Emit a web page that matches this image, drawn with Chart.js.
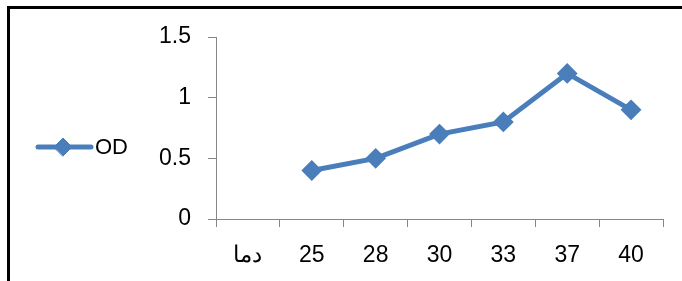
<!DOCTYPE html>
<html>
<head>
<meta charset="utf-8">
<script src="https://cdn.jsdelivr.net/npm/chart.js@4/dist/chart.umd.min.js"></script>
<style>
  html, body { margin: 0; padding: 0; width: 682px; height: 281px; overflow: hidden; background: #fff; }
  #frame { position: absolute; left: 7px; top: 6px; width: 800px; height: 400px; border: 3px solid #000; box-sizing: border-box; }
  canvas { position: absolute; left: 0; top: 0; }
</style>
</head>
<body>
<div id="frame"></div>
<canvas id="c" width="682" height="281"></canvas>
<script>
// Data
const categories = ['دما', '25', '28', '30', '33', '37', '40'];
const odValues = [null, 0.4, 0.5, 0.7, 0.8, 1.2, 0.9];
const seriesName = 'OD';
const yTicks = [0, 0.5, 1, 1.5];

const BLUE = '#4A7EBB';
const AXIS = '#868686';
const FONT = "'Liberation Sans', Arial, sans-serif";

const sideLegend = {
  id: 'sideLegend',
  afterDraw(chart) {
    const ctx = chart.ctx;
    const ds = chart.data.datasets[0];
    const y = 147;
    ctx.save();
    ctx.strokeStyle = ds.borderColor;
    ctx.lineWidth = 5;
    ctx.lineCap = 'round';
    ctx.beginPath();
    ctx.moveTo(38, y);
    ctx.lineTo(91, y);
    ctx.stroke();
    ctx.fillStyle = ds.backgroundColor;
    ctx.strokeStyle = ds.borderColor;
    ctx.lineWidth = 1;
    Chart.helpers.drawPoint(ctx, { pointStyle: 'rectRot', radius: 9, borderWidth: 1 }, 63, y);
    ctx.fillStyle = '#000';
    ctx.font = '22px ' + FONT;
    ctx.textBaseline = 'middle';
    ctx.textAlign = 'left';
    ctx.fillText(ds.label, 95, y + 1);
    ctx.restore();
  }
};

new Chart(document.getElementById('c'), {
  type: 'line',
  data: {
    labels: categories,
    datasets: [{
      label: seriesName,
      data: odValues,
      borderColor: BLUE,
      backgroundColor: BLUE,
      borderWidth: 5,
      tension: 0,
      pointStyle: 'rectRot',
      pointRadius: 9,
      pointBorderWidth: 2,
      pointBackgroundColor: BLUE,
      pointBorderColor: BLUE,
      spanGaps: false
    }]
  },
  options: {
    responsive: false,
    devicePixelRatio: 1,
    animation: false,
    layout: { padding: { left: 0, right: 19, top: 37, bottom: 0 } },
    plugins: { legend: { display: false }, tooltip: { enabled: false } },
    scales: {
      x: {
        type: 'category',
        offset: true,
        grid: { display: true, drawOnChartArea: false, drawTicks: true, tickLength: 8, color: AXIS, offset: true },
        border: { display: true, color: AXIS, width: 1 },
        ticks: { color: '#000', font: { family: FONT, size: 23 }, padding: 15, maxRotation: 0, autoSkip: false },
        afterFit(s) { s.height = 62; s.paddingLeft = 0; s.paddingRight = 0; }
      },
      y: {
        min: 0,
        max: 1.5,
        afterBuildTicks(s) { s.ticks = yTicks.map(v => ({ value: v })); },
        grid: { display: true, drawOnChartArea: false, drawTicks: true, tickLength: 8, color: AXIS },
        border: { display: true, color: AXIS, width: 1 },
        ticks: { color: '#000', font: { family: FONT, size: 23 }, padding: 17, callback: v => String(v) },
        afterFit(s) { s.width = 216; s.paddingTop = 0; s.paddingBottom = 0; }
      }
    }
  },
  plugins: [sideLegend]
});
</script>
</body>
</html>
